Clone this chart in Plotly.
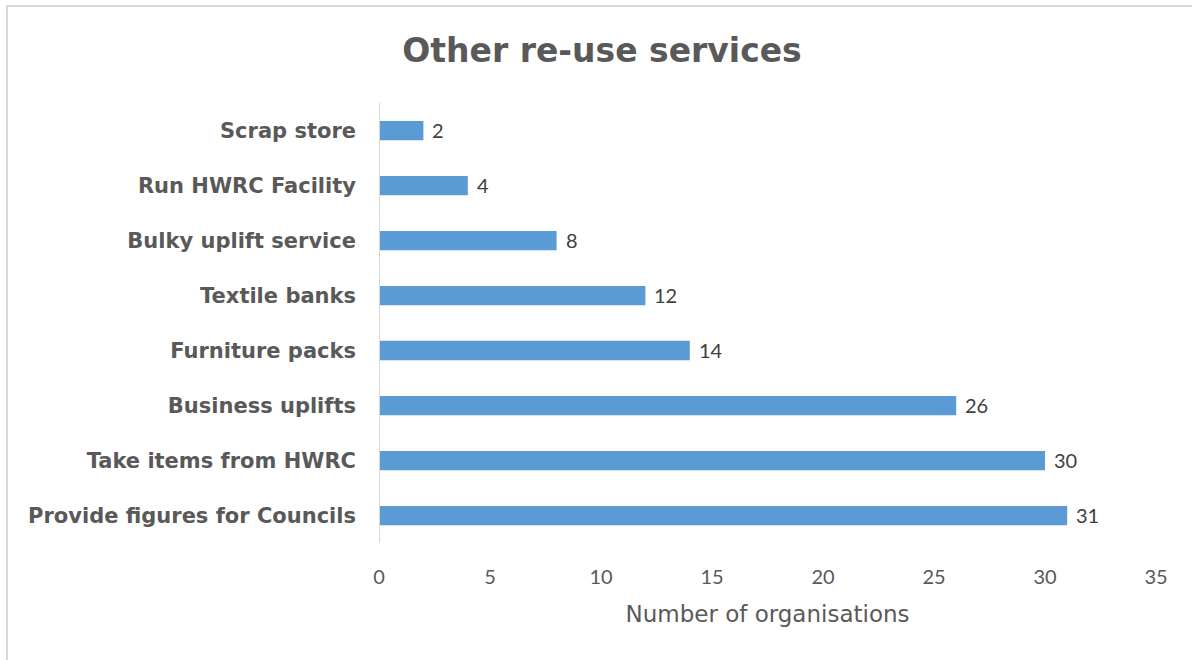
import plotly.graph_objects as go

# Services offered and how many organisations offer each
services = [
    "Provide figures for Councils",
    "Take items from HWRC",
    "Business uplifts",
    "Furniture packs",
    "Textile banks",
    "Bulky uplift service",
    "Run HWRC Facility",
    "Scrap store",
]
organisations = [31, 30, 26, 14, 12, 8, 4, 2]
x_ticks = [0, 5, 10, 15, 20, 25, 30, 35]

W, H = 1192, 660
L, R, T, B = 379, 36, 103, 117
pw = W - L - R
ph = H - T - B

NUM_FONT = "Lato, Open Sans, sans-serif"
TXT_FONT = "DejaVu Sans, Verdana, sans-serif"

fig = go.Figure(
    go.Bar(
        y=services,
        x=organisations,
        orientation="h",
        width=0.35,
        marker=dict(color="#5B9BD5", line=dict(width=0)),
        hoverinfo="x+y",
    )
)

# Value labels just past the end of each bar
for name, val in zip(services, organisations):
    fig.add_annotation(
        x=val, y=name, xref="x", yref="y",
        text=str(val), showarrow=False,
        xanchor="left", yanchor="middle", xshift=7, yshift=1,
        font=dict(family=NUM_FONT, size=20, color="#404040"),
    )

fig.update_layout(
    width=W,
    height=H,
    margin=dict(l=L, r=R, t=T, b=B, pad=0),
    paper_bgcolor="white",
    plot_bgcolor="white",
    showlegend=False,
    title=dict(
        text="<b>Other re-use services</b>",
        x=602 / W,
        xanchor="center",
        y=1 - 50 / H,
        yanchor="middle",
        font=dict(family=TXT_FONT, size=33, color="#595959"),
    ),
    xaxis=dict(
        range=[0, 35],
        tickvals=x_ticks,
        ticktext=[str(t) for t in x_ticks],
        showgrid=False,
        zeroline=False,
        showline=False,
        ticks="",
        tickfont=dict(family=NUM_FONT, size=20, color="#595959"),
        ticklabelstandoff=20,
        title=dict(
            text="Number of organisations",
            font=dict(family=TXT_FONT, size=23, color="#595959"),
            standoff=18,
        ),
    ),
    yaxis=dict(
        categoryorder="array",
        categoryarray=services,
        showgrid=False,
        zeroline=False,
        showline=False,
        ticks="",
        ticklabelstandoff=22,
        tickfont=dict(family=TXT_FONT, size=21, color="#595959"),
        tickprefix="<b>",
        ticksuffix="</b>",
    ),
)

# Vertical category axis line at x = 0
fig.add_shape(
    type="line", xref="x", yref="paper",
    x0=0, x1=0, y0=0, y1=1,
    line=dict(color="#D9D9D9", width=2),
)

# Chart frame (top and left edges visible)
fig.add_shape(
    type="rect", xref="paper", yref="paper",
    x0=(7 - L) / pw, x1=(W + 20 - L) / pw,
    y0=-(H + 20 - T - ph) / ph, y1=1 + (T - 6) / ph,
    line=dict(color="#D9D9D9", width=2),
    fillcolor="rgba(0,0,0,0)",
    layer="below",
)

fig.write_html("out.html")
